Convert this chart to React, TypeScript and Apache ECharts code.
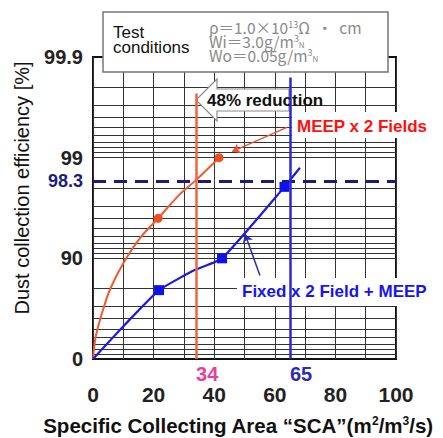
import React, { useEffect, useRef } from 'react';
import * as echarts from 'echarts';

// ---- data ----
const yTickEff = [0, 90, 99, 99.9];
const gridEff = [10, 20, 30, 40, 50, 60, 70, 80, 90, 91, 92, 93, 94, 95, 96, 97, 98, 99, 99.1, 99.2, 99.3, 99.4, 99.5, 99.6, 99.7, 99.8];
const xMin = 0;
const xMax = 100;
const xStep = 10;
const xLabelStep = 20;

const meepSCA = [0, 0.7, 1.5, 3, 5.6, 10, 15.5, 21.5, 28.7, 33.7, 41.6];
const meepEff = [0, 35.4, 49.9, 65.3, 79.6, 88.8, 93.7, 96.0, 97.7, 98.3, 99.0];
const meepMarked = [21.5, 41.6];

const fixedSCA = [0, 10.5, 21.8, 33.7, 42.6, 63.2, 68.3];
const fixedEff = [0, 54.3, 79.3, 87.0, 90.0, 98.05, 98.74];
const fixedMarked = [21.8, 42.6, 63.2];

const targetEff = 98.3;
const meepReqSCA = 34;
const fixedReqSCA = 65;
const meepReqTopEff = 99.77;
const fixedReqTopEff = 99.84;

const meepPointer = [[64.0, 99.5], [45.9, 99.13]];
const fixedPointer = [[55.1, 85.2], [50.2, 94.25]];

const toD = (e: number) => (e <= 0 ? 0 : -Math.log10(1 - e / 100));

const FONT = 'Liberation Sans, Arial, sans-serif';
const JP = 'Noto Sans CJK JP';
const GRAY = '#8a8a8a';

export default function App() {
  const ref = useRef<HTMLDivElement>(null);
  useEffect(() => {
    const chart = echarts.init(ref.current!, null, { renderer: 'svg' });
    const supSub = {
      sup: { fontSize: 9, fill: GRAY, verticalAlign: 'top', fontFamily: JP, lineHeight: 14 },
      sub: { fontSize: 8, fill: GRAY, verticalAlign: 'bottom', fontFamily: JP, lineHeight: 14 },
    };
    const option: any = {
      animation: false,
      backgroundColor: '#fff',
      grid: { left: 93, right: 47, top: 57, bottom: 79, show: true, borderColor: '#111', borderWidth: 2, backgroundColor: 'transparent' },
      xAxis: {
        type: 'value', min: xMin, max: xMax, interval: xStep,
        axisLine: { show: false }, axisTick: { show: false },
        splitLine: { show: true, lineStyle: { color: '#333', width: 1 } },
        axisLabel: {
          margin: 25, fontSize: 21, fontWeight: 'bold', color: '#222', fontFamily: FONT,
          formatter: (v: number) => (v % xLabelStep === 0 ? String(v) : ''),
        },
      },
      yAxis: {
        type: 'value', min: 0, max: yTickEff.length - 1, interval: 1,
        axisLine: { show: false }, axisTick: { show: false }, splitLine: { show: false },
        axisLabel: {
          margin: 10, fontSize: 20, fontWeight: 'bold', color: '#222', fontFamily: FONT,
          formatter: (v: number) => String(yTickEff[Math.round(v)]),
        },
      },
      series: [
        {
          type: 'line', data: [], z: 1, silent: true,
          markLine: {
            z: 1, silent: true, symbol: ['none', 'none'], label: { show: false },
            lineStyle: { color: '#333', width: 1, type: 'solid' },
            emphasis: { disabled: true },
            data: gridEff.map((e) => ({ yAxis: toD(e) })),
          },
        },
        {
          name: 'MEEP x 2 Fields', type: 'line', z: 3, smooth: 0.3, showAllSymbol: true,
          data: meepSCA.map((x, i) => ({
            value: [x, toD(meepEff[i])],
            symbol: meepMarked.includes(x) ? 'circle' : 'none',
            symbolSize: 9,
          })),
          lineStyle: { color: '#ef5a2e', width: 2 },
          itemStyle: { color: '#ef4a22' },
        },
        {
          name: 'Fixed x 2 Field + MEEP', type: 'line', z: 3, smooth: 0.15, showAllSymbol: true,
          data: fixedSCA.map((x, i) => ({
            value: [x, toD(fixedEff[i])],
            symbol: fixedMarked.includes(x) ? 'rect' : 'none',
            symbolSize: 10,
          })),
          lineStyle: { color: '#1a1ae0', width: 2.2 },
          itemStyle: { color: '#1010e8' },
        },
        {
          type: 'line', data: [], z: 3, silent: true,
          markLine: {
            z: 3, silent: true, symbol: ['none', 'none'],
            lineStyle: { color: '#1c1c78', width: 3, type: [13, 8] },
            label: { show: true, position: 'start', distance: 10, formatter: String(targetEff), color: '#1c1c80', fontWeight: 'bold', fontSize: 18, fontFamily: FONT },
            data: [{ yAxis: toD(targetEff) }],
          },
        },
        {
          type: 'line', data: [], z: 4, silent: true,
          markLine: {
            z: 4, silent: true, symbol: ['none', 'arrow'], symbolSize: 8, label: { show: false },
            data: [
              [
                { coord: [meepPointer[0][0], toD(meepPointer[0][1])], lineStyle: { color: '#ee5533', width: 1.5, type: 'solid' }, itemStyle: { color: '#ee5533' } },
                { coord: [meepPointer[1][0], toD(meepPointer[1][1])] },
              ],
              [
                { coord: [fixedPointer[0][0], toD(fixedPointer[0][1])], lineStyle: { color: '#2a2ab8', width: 1.5, type: 'solid' }, itemStyle: { color: '#2a2ab8' } },
                { coord: [fixedPointer[1][0], toD(fixedPointer[1][1])] },
              ],
            ],
          },
        },
        {
          type: 'line', data: [], z: 6, silent: true,
          markLine: {
            z: 6, silent: true, symbol: ['none', 'none'],
            data: [
              [
                {
                  coord: [meepReqSCA, 0],
                  lineStyle: { color: '#ef6440', width: 2.5, type: 'solid' },
                  label: { show: true, position: 'start', distance: 5, align: 'left', formatter: String(meepReqSCA), color: '#e8409a', fontWeight: 'bold', fontSize: 20, fontFamily: FONT },
                },
                { coord: [meepReqSCA, toD(meepReqTopEff)] },
              ],
              [
                {
                  coord: [fixedReqSCA, 0],
                  lineStyle: { color: '#2a2ad0', width: 2.5, type: 'solid' },
                  label: { show: true, position: 'start', distance: 5, align: 'left', formatter: String(fixedReqSCA), color: '#2b2bb8', fontWeight: 'bold', fontSize: 20, fontFamily: FONT },
                },
                { coord: [fixedReqSCA, toD(fixedReqTopEff)] },
              ],
            ],
          },
        },
      ],
      graphic: [
        // reduction arrow
        {
          type: 'polygon', z: 2,
          shape: { points: [[196, 100], [217, 79], [217, 89], [289, 89], [289, 111], [217, 111], [217, 121]] },
          style: { fill: '#fff', stroke: '#8a8a8a', lineWidth: 1.2 },
        },
        {
          type: 'text', z: 2, x: 207, y: 100,
          style: { text: '48% reduction', fontSize: 17, fontWeight: 'bold', fill: '#111', fontFamily: FONT, verticalAlign: 'middle' },
        },
        // series labels
        { type: 'rect', z: 5, shape: { x: 292, y: 112, width: 140, height: 26 }, style: { fill: '#fff' } },
        {
          type: 'text', z: 5, x: 297, y: 126,
          style: { text: 'MEEP x 2 Fields', fontSize: 17, fontWeight: 'bold', fill: '#ff1010', fontFamily: FONT, verticalAlign: 'middle' },
        },
        { type: 'rect', z: 5, shape: { x: 237, y: 278, width: 200, height: 28 }, style: { fill: '#fff' } },
        {
          type: 'text', z: 5, x: 242, y: 291,
          style: { text: 'Fixed x 2 Field + MEEP', fontSize: 17, fontWeight: 'bold', fill: '#1515f0', fontFamily: FONT, verticalAlign: 'middle' },
        },
        // test conditions box
        { type: 'rect', z: 10, shape: { x: 103, y: 12, width: 285, height: 60 }, style: { fill: '#fff', stroke: '#777', lineWidth: 1.5 } },
        {
          type: 'text', z: 11, x: 113, y: 40,
          style: { text: 'Test\nconditions', fontSize: 17, lineHeight: 15, fill: '#111', fontFamily: FONT, verticalAlign: 'middle' },
        },
        {
          type: 'text', z: 11, x: 209, y: 41,
          style: {
            text: 'ρ＝1.0×10{sup|13}Ω  ・  cm\nWi＝3.0g/m{sup|3}{sub|N}\nWo＝0.05g/m{sup|3}{sub|N}',
            fontSize: 15.5, lineHeight: 14, fill: GRAY, fontFamily: JP, verticalAlign: 'middle',
            rich: supSub,
          },
        },
        // axis titles
        {
          type: 'text', z: 11, x: 22, y: 188, rotation: Math.PI / 2,
          style: { text: 'Dust collection efficiency [%]', fontSize: 20, fill: '#111', fontFamily: FONT, align: 'center', verticalAlign: 'middle' },
        },
        {
          type: 'text', z: 11, x: 238, y: 425,
          style: {
            text: 'Specific Collecting Area “SCA”(m{sup|2}/m{sup|3}/s)', fontSize: 20.5, fontWeight: 'bold', fill: '#111', fontFamily: FONT,
            align: 'center', verticalAlign: 'middle',
            rich: { sup: { fontSize: 12, fontWeight: 'bold', fill: '#111', verticalAlign: 'top', fontFamily: FONT } },
          },
        },
      ],
    };
    chart.setOption(option);
    return () => chart.dispose();
  }, []);
  return <div ref={ref} style={{ position: 'fixed', left: 0, top: 0, width: 443, height: 438 }} />;
}
